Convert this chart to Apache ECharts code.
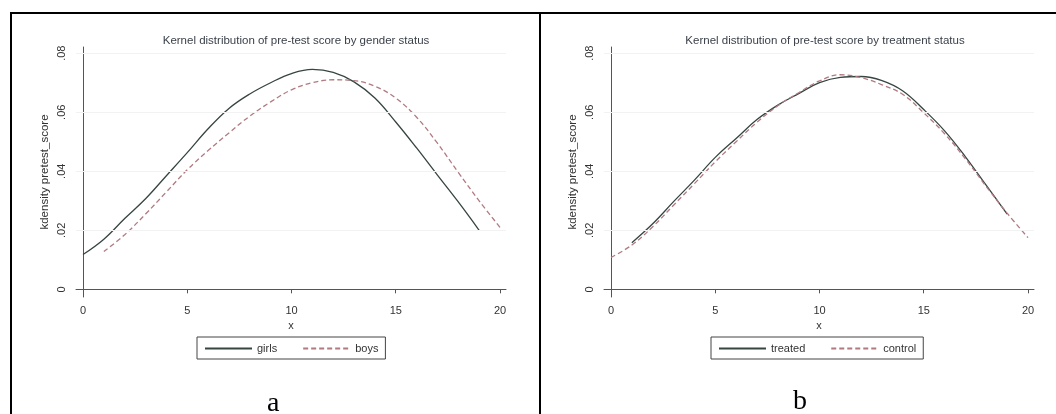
<!DOCTYPE html>
<html>
<head>
<meta charset="utf-8">
<script src="https://cdn.jsdelivr.net/npm/echarts@6/dist/echarts.min.js"></script>
<style>
  html, body { margin: 0; padding: 0; background: #fff; }
  #chart { width: 1056px; height: 414px; }
</style>
</head>
<body>
<div id="chart"></div>
<script>
// panel a: kernel density by gender
var girlsX = [0, 1, 2, 3, 4, 5, 6, 7, 8, 9, 10, 11, 12, 13, 14, 15, 16, 17, 18, 19];
var girlsY = [0.0118, 0.0170, 0.0240, 0.0307, 0.0385, 0.0463, 0.0544, 0.0613, 0.0662, 0.0700,
              0.0731, 0.0745, 0.0735, 0.0703, 0.0648, 0.0567, 0.0479, 0.0387, 0.0296, 0.0200];
var boysX = [1, 2, 3, 4, 5, 6, 7, 8, 9, 10, 11, 12, 13, 14, 15, 16, 17, 18, 19, 20];
var boysY = [0.0128, 0.0185, 0.0255, 0.0330, 0.0405, 0.0470, 0.0530, 0.0587, 0.0635, 0.0676,
             0.0700, 0.0710, 0.0707, 0.0688, 0.0648, 0.0583, 0.0495, 0.0396, 0.0300, 0.0210];

// panel b: kernel density by treatment
var treatedX = [1, 2, 3, 4, 5, 6, 7, 8, 9, 10, 11, 12, 13, 14, 15, 16, 17, 18, 19];
var treatedY = [0.0158, 0.0222, 0.0297, 0.0370, 0.0447, 0.0511, 0.0575, 0.0624, 0.0663, 0.0700,
                0.0718, 0.0721, 0.0707, 0.0672, 0.0609, 0.0537, 0.0449, 0.0352, 0.0255];
var controlX = [0, 1, 2, 3, 4, 5, 6, 7, 8, 9, 10, 11, 12, 13, 14, 15, 16, 17, 18, 19, 20];
var controlY = [0.0108, 0.0150, 0.0212, 0.0285, 0.0358, 0.0432, 0.0500, 0.0566, 0.0622, 0.0666,
                0.0706, 0.0727, 0.0717, 0.0693, 0.0660, 0.0598, 0.0527, 0.0442, 0.0348, 0.0258, 0.0175];

var xTicks = [0, 5, 10, 15, 20];
var yTicks = [0, 0.02, 0.04, 0.06, 0.08];

var titles = ['Kernel distribution of pre-test score by gender status',
              'Kernel distribution of pre-test score by treatment status'];
var panelLetters = ['a', 'b'];

var FONT = '"Liberation Sans", Arial, sans-serif';
var SOLID = '#364542';
var DASHED = '#b07a80';
var AXIS = '#555';

function pairs(xs, ys) {
  return xs.map(function (x, i) { return [x, ys[i]]; });
}

function yLabel(v) {
  return v === 0 ? '0' : v.toFixed(2).replace(/^0/, '');
}

function makeX(idx) {
  return {
    type: 'value', gridIndex: idx,
    min: -0.336, max: 20.288,
    name: 'x', nameLocation: 'middle', nameGap: 22,
    nameTextStyle: { fontFamily: FONT, fontSize: 11, color: '#333' },
    axisLine: { lineStyle: { color: AXIS, width: 1 } },
    axisTick: { length: 4, lineStyle: { color: AXIS }, customValues: xTicks },
    axisLabel: { customValues: xTicks, margin: 8, fontFamily: FONT, fontSize: 11, color: '#333' },
    splitLine: { show: false }
  };
}

function makeY(idx) {
  return {
    type: 'value', gridIndex: idx,
    min: -0.0026, max: 0.0821,
    name: 'kdensity pretest_score', nameLocation: 'middle', nameGap: 25, nameRotate: 90,
    nameTextStyle: { fontFamily: FONT, fontSize: 11.5, color: '#333' },
    axisLine: { show: true, lineStyle: { color: AXIS, width: 1 } },
    axisTick: { show: true, length: 4, lineStyle: { color: AXIS }, customValues: yTicks },
    axisLabel: { customValues: yTicks, rotate: 90, margin: 9, formatter: yLabel,
                 fontFamily: FONT, fontSize: 11, color: '#333' },
    splitLine: { show: false }
  };
}

function gridLines() {
  return {
    silent: true, symbol: 'none', label: { show: false },
    lineStyle: { color: '#f1f2f1', width: 1, type: 'solid' },
    data: yTicks.slice(1).map(function (v) { return { yAxis: v }; })
  };
}

function lineSeries(name, idx, data, dashed, withGrid) {
  var s = {
    name: name, type: 'line', xAxisIndex: idx, yAxisIndex: idx,
    data: data, smooth: 0.4, showSymbol: false, symbol: 'none',
    lineStyle: { color: dashed ? DASHED : SOLID, width: 1.3, type: dashed ? [5, 3] : 'solid' },
    itemStyle: { color: dashed ? DASHED : SOLID },
    z: dashed ? 3 : 2
  };
  if (withGrid) s.markLine = gridLines();
  return s;
}

function legendFor(names, left) {
  return {
    data: names, left: left, top: 337, orient: 'horizontal',
    padding: [6, 7, 5, 7], itemGap: 25, itemWidth: 47, itemHeight: 12,
    borderColor: '#444', borderWidth: 1, borderRadius: 0,
    itemStyle: { opacity: 0 },
    textStyle: { fontFamily: FONT, fontSize: 11, color: '#333' }
  };
}

var chart = echarts.init(document.getElementById('chart'), null, { renderer: 'canvas' });

chart.setOption({
  animation: false,
  backgroundColor: '#fff',
  title: [
    { text: titles[0], left: 291, top: 30, textAlign: 'center',
      textStyle: { fontFamily: FONT, fontSize: 11.5, fontWeight: 'normal', color: '#3a3f48' } },
    { text: titles[1], left: 820, top: 30, textAlign: 'center',
      textStyle: { fontFamily: FONT, fontSize: 11.5, fontWeight: 'normal', color: '#3a3f48' } }
  ],
  grid: [
    { left: 76, top: 47, width: 430, height: 250 },
    { left: 604, top: 47, width: 430, height: 250 }
  ],
  xAxis: [makeX(0), makeX(1)],
  yAxis: [makeY(0), makeY(1)],
  legend: [legendFor(['girls', 'boys'], 197), legendFor(['treated', 'control'], 711)],
  series: [
    lineSeries('girls', 0, pairs(girlsX, girlsY), false, true),
    lineSeries('boys', 0, pairs(boysX, boysY), true, false),
    lineSeries('treated', 1, pairs(treatedX, treatedY), false, true),
    lineSeries('control', 1, pairs(controlX, controlY), true, false)
  ],
  graphic: [
    // outer frame of the figure table
    { type: 'line', shape: { x1: 11, y1: 13, x2: 1056, y2: 13 }, style: { stroke: '#000', lineWidth: 2 } },
    { type: 'line', shape: { x1: 11, y1: 12, x2: 11, y2: 414 }, style: { stroke: '#000', lineWidth: 2 } },
    { type: 'line', shape: { x1: 540, y1: 12, x2: 540, y2: 414 }, style: { stroke: '#000', lineWidth: 2 } },
    { type: 'text', left: 267, top: 390,
      style: { text: panelLetters[0], font: '28px "Liberation Serif", "Times New Roman", serif', fill: '#000' } },
    { type: 'text', left: 793, top: 388,
      style: { text: panelLetters[1], font: '28px "Liberation Serif", "Times New Roman", serif', fill: '#000' } }
  ]
});
</script>
</body>
</html>
